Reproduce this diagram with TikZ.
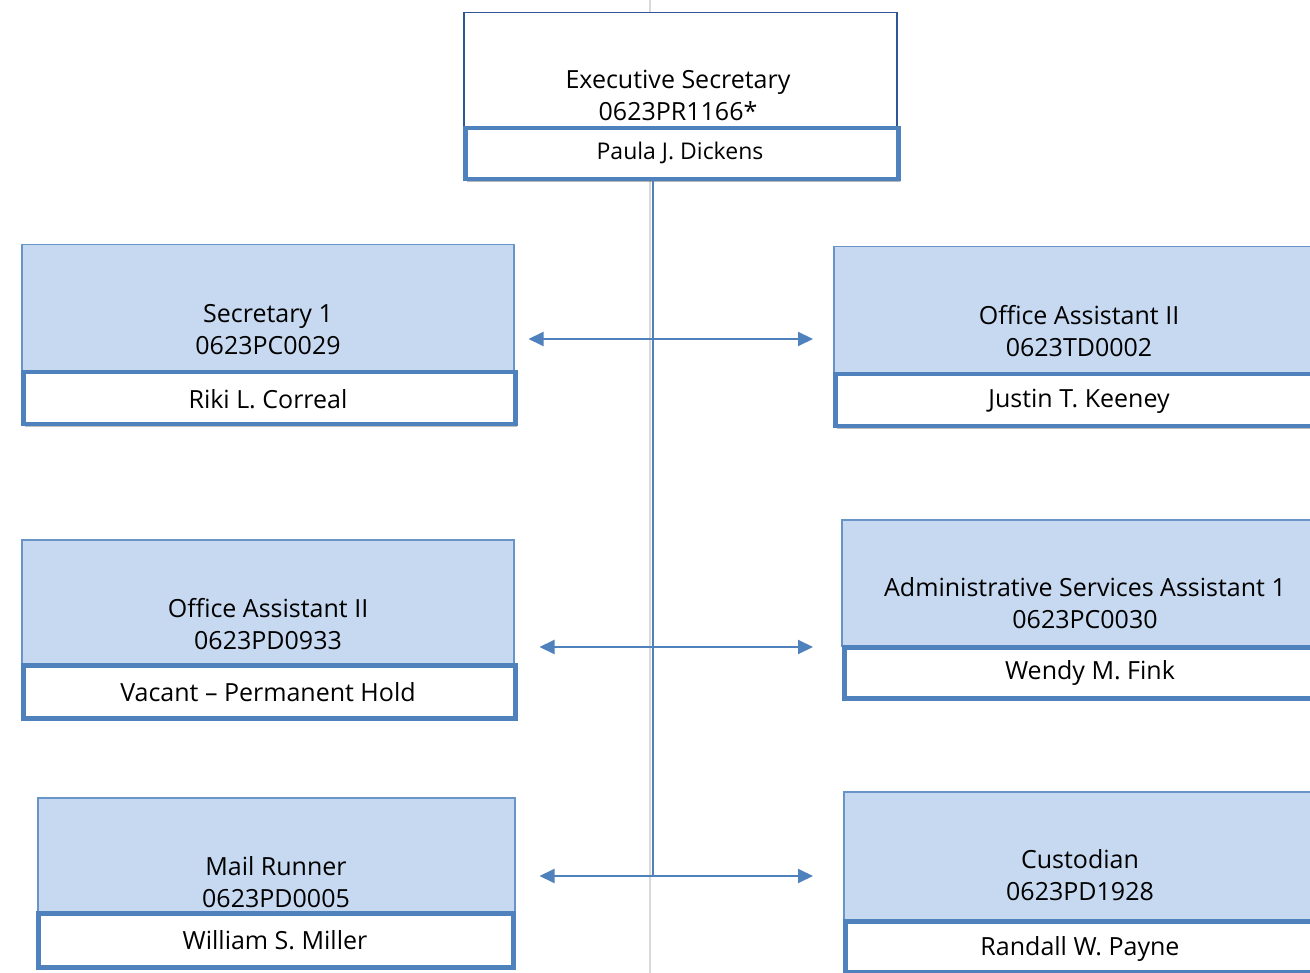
\documentclass[tikz,border=0pt]{standalone}
\usepackage{fontspec}
\setmainfont{Open Sans}
\usetikzlibrary{arrows.meta,shadows}
\definecolor{boxfill}{RGB}{198,217,240}
\definecolor{edgeblue}{RGB}{79,129,189}
\definecolor{topedge}{RGB}{47,85,151}
\definecolor{pagegrey}{RGB}{217,217,217}
\begin{document}
\begin{tikzpicture}[x=1pt,y=-1pt,
  upperbox/.style={draw=edgeblue!85, line width=1.5pt, fill=boxfill, inner sep=0pt, anchor=north west,
     drop shadow={shadow xshift=1.5pt, shadow yshift=-2pt, opacity=0.25, fill=black}},
  topupper/.style={draw=topedge, line width=1.5pt, fill=white, inner sep=0pt, anchor=north west},
  bandbox/.style={draw=edgeblue, line width=4.5pt, fill=white, inner sep=0pt, anchor=north west,
     drop shadow={shadow xshift=1.5pt, shadow yshift=-2.5pt, opacity=0.25, fill=black}},
  titletext/.style={align=center, font=\fontsize{25}{32}\selectfont, inner sep=0pt},
  nametext/.style={font=\fontsize{25}{28}\selectfont, inner sep=0pt},
  link/.style={draw=edgeblue, line width=2pt},
  arr/.style={link, -{Triangle[length=15pt,width=14pt]}}
]
\useasboundingbox (0,0) rectangle (1310,973);
\clip (0,0) rectangle (1310,973);
\fill[white] (0,0) rectangle (1310,973);
% page guide
\coordinate (g1) at (650,0);
\coordinate (g2) at (650,973);
\draw[pagegrey, line width=1.5pt] (g1) -- (g2);

% top box
\node[topupper, minimum width=433, minimum height=114] (TOP) at (463,12) {};
\node[bandbox, minimum width=433, minimum height=51, drop shadow={opacity=0.15}] (TOPb) at (463,126) {};
\node[titletext] (TOPt) at (678,95) {Executive Secretary\\0623PR1166*};
\node[nametext, font=\fontsize{23}{26}\selectfont] (TOPn) at (680,153) {Paula J. Dickens};

% left column
\node[upperbox, minimum width=492, minimum height=126] (L1) at (21,244) {};
\node[bandbox, minimum width=492, minimum height=52] (L1b) at (21,370) {};
\node[titletext] (L1t) at (268,330) {Secretary 1\\0623PC0029};
\node[nametext] (L1n) at (268,399) {Riki L. Correal};

\node[upperbox, minimum width=492, minimum height=124] (L2) at (21,539) {};
\node[bandbox, minimum width=492, minimum height=53] (L2b) at (21,663) {};
\node[titletext] (L2t) at (268,624) {Office Assistant II\\0623PD0933};
\node[nametext] (L2n) at (268,692) {Vacant – Permanent Hold};

\node[upperbox, minimum width=477, minimum height=114] (L3) at (37,797) {};
\node[titletext] (L3t) at (276,882) {Mail Runner\\0623PD0005};
\node[bandbox, minimum width=475, minimum height=54] (L3b) at (36,911) {};
\node[nametext] (L3n) at (275,940) {William S. Miller};

% right column
\node[upperbox, minimum width=492, minimum height=126] (R1) at (833,246) {};
\node[bandbox, minimum width=492, minimum height=52] (R1b) at (833,372) {};
\node[titletext] (R1t) at (1079,331) {Office Assistant II\\0623TD0002};
\node[nametext] (R1n) at (1079,401) {Justin T. Keeney};

\node[upperbox, minimum width=488, minimum height=126] (R2) at (841,519) {};
\node[bandbox, minimum width=488, minimum height=51] (R2b) at (842,645) {};
\node[titletext] (R2t) at (1085,603) {Administrative Services Assistant 1\\0623PC0030};
\node[nametext] (R2n) at (1090,673) {Wendy M. Fink};

\node[upperbox, minimum width=474, minimum height=128] (R3) at (843,791) {};
\node[bandbox, minimum width=474, minimum height=51] (R3b) at (843,919) {};
\node[titletext] (R3t) at (1080,875) {Custodian\\0623PD1928};
\node[nametext] (R3n) at (1080,949) {Randall W. Payne};

% connectors
\coordinate (j1) at (653,339);
\coordinate (j2) at (653,647);
\coordinate (j3) at (653,876);
\draw[link] (j1 |- TOPb.south) -- (j3);
\draw[arr, shorten >=14pt] (j1) -- (j1 -| L1.east);
\draw[arr, shorten >=20pt] (j1) -- (j1 -| R1.west);
\draw[arr, shorten >=25pt] (j2) -- (j2 -| L2.east);
\draw[arr, shorten >=28pt] (j2) -- (j2 -| R2.west);
\draw[arr, shorten >=24pt] (j3) -- (j3 -| L3.east);
\draw[arr, shorten >=30pt] (j3) -- (j3 -| R3.west);
\end{tikzpicture}
\end{document}
